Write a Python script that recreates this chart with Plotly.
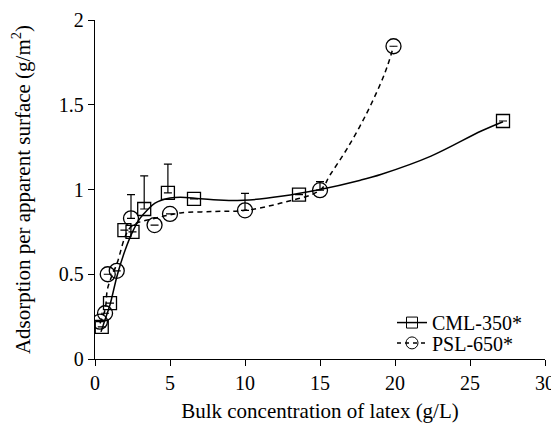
import plotly.graph_objects as go

# measured points
cml_x = [0.45, 1.0, 1.96, 2.5, 3.28, 4.86, 6.6, 13.6, 27.2]
cml_y = [0.19, 0.33, 0.76, 0.75, 0.885, 0.98, 0.945, 0.97, 1.404]
cml_err = [0, 0, 0, 0, 0.195, 0.17, 0, 0, 0]

psl_x = [0.33, 0.67, 0.85, 1.45, 2.4, 3.97, 5.0, 10.0, 15.0, 19.9]
psl_y = [0.22, 0.27, 0.50, 0.52, 0.83, 0.79, 0.856, 0.877, 0.996, 1.845]
psl_err = [0, 0, 0, 0, 0.14, 0, 0, 0.10, 0.05, 0]

# fitted curves
cml_fit_x = [0.4, 0.7, 1.0, 1.5, 2.0, 2.5, 3.0, 3.5, 4.0, 5.0, 5.7, 7.0, 7.9, 9.9,
             12.4, 15.0, 17.7, 19.1, 22.4, 25.75, 27.2]
cml_fit_y = [0.16, 0.24, 0.32, 0.50, 0.64, 0.75, 0.83, 0.88, 0.92, 0.95, 0.955, 0.945,
             0.94, 0.936, 0.96, 1.0, 1.055, 1.09, 1.197, 1.345, 1.40]

psl_fit_x = [0.33, 0.67, 0.85, 1.45, 2.4, 4.0, 5.0, 5.7, 7.9, 10.0, 12.4, 15.0, 15.7,
             16.8, 18.0, 19.06, 19.5, 19.9]
psl_fit_y = [0.21, 0.29, 0.42, 0.56, 0.78, 0.83, 0.85, 0.862, 0.87, 0.877, 0.92, 0.996,
             1.09, 1.24, 1.43, 1.63, 1.73, 1.845]

FONT = "Liberation Serif, Times New Roman, Times, serif"

fig = go.Figure()

fig.add_trace(go.Scatter(x=cml_fit_x, y=cml_fit_y, mode="lines", line_shape="spline",
                         line=dict(color="black", width=1.5), showlegend=False, hoverinfo="skip"))
fig.add_trace(go.Scatter(x=psl_fit_x, y=psl_fit_y, mode="lines", line_shape="spline",
                         line=dict(color="black", width=1.5, dash="5px,4px"),
                         showlegend=False, hoverinfo="skip"))

fig.add_trace(go.Scatter(
    x=cml_x, y=cml_y, mode="markers", showlegend=False,
    marker=dict(symbol="square-open", size=13, color="black", line=dict(width=1.3)),
    error_y=dict(type="data", array=cml_err, arrayminus=[0] * len(cml_err), symmetric=False,
                 color="black", thickness=1.2, width=4)))
fig.add_trace(go.Scatter(
    x=psl_x, y=psl_y, mode="markers", showlegend=False,
    marker=dict(symbol="circle-open", size=15, color="black", line=dict(width=1.3)),
    error_y=dict(type="data", array=psl_err, arrayminus=[0] * len(psl_err), symmetric=False,
                 color="black", thickness=1.2, width=4)))

# legend entries (two legends so the rows can sit close together)
fig.add_trace(go.Scatter(x=[None], y=[None], mode="lines+markers", name="CML-350*",
                         legend="legend",
                         line=dict(color="black", width=1.5),
                         marker=dict(symbol="square-open", size=11, color="black")))
fig.add_trace(go.Scatter(x=[None], y=[None], mode="lines+markers", name="PSL-650*",
                         legend="legend2",
                         line=dict(color="black", width=1.5, dash="4px,4px"),
                         marker=dict(symbol="circle-open", size=12, color="black")))

axis_common = dict(showgrid=False, zeroline=False, showline=True, linecolor="black",
                   linewidth=1.3, ticks="outside", tickcolor="black", ticklen=6,
                   automargin=False,
                   tickfont=dict(family=FONT, size=20, color="black"))

legend_common = dict(x=0.66, xanchor="left", yanchor="top",
                     font=dict(family=FONT, size=20), bgcolor="rgba(0,0,0,0)")

# the page body adds an 8px offset, so the figure is 8px smaller than the window
fig.update_layout(
    width=551, height=415,
    margin=dict(l=87, r=14, t=12, b=64),
    plot_bgcolor="white", paper_bgcolor="white",
    font=dict(family=FONT, color="black"),
    xaxis=dict(range=[0, 30], dtick=5,
               title=dict(text="Bulk concentration of latex (g/L)",
                          font=dict(family=FONT, size=21), standoff=12),
               **axis_common),
    yaxis=dict(range=[0, 2], dtick=0.5,
               title=dict(text="Adsorption per apparent surface (g/m<sup>2</sup>)",
                          font=dict(family=FONT, size=21), standoff=26),
               **axis_common),
    legend=dict(y=0.165, **legend_common),
    legend2=dict(y=0.105, **legend_common),
)

fig.write_html("out.html")
